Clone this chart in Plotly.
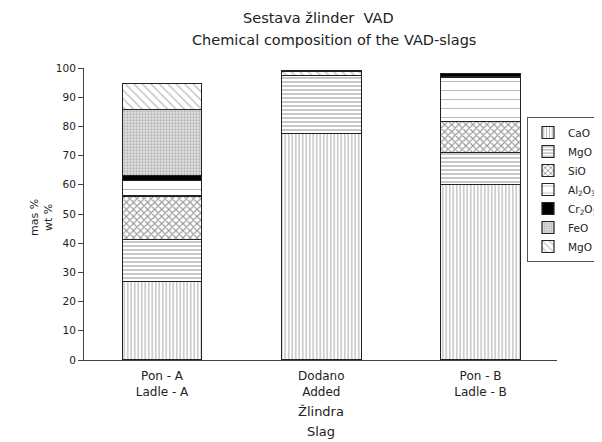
import plotly.graph_objects as go

categories = ["Pon - A<br>Ladle - A", "Dodano<br>Added", "Pon - B<br>Ladle - B"]
cao = [26.8, 77.6, 60.0]
mgo = [14.6, 19.9, 11.0]
sio = [14.8, None, 10.7]
al2o3 = [5.2, None, 15.2]
cr2o3 = [1.7, None, 1.1]
feo = [22.6, None, None]
mgo2 = [9.0, 1.5, None]
y_ticks = [0, 10, 20, 30, 40, 50, 60, 70, 80, 90, 100]

x = [0, 1, 2]
FONT = "DejaVu Sans"
TXT = "#222"

# figure geometry (page has an 8px body margin)
W, H = 594, 434
L, R, T, B = 76, 549, 60, 352


def px(fx):
    return (fx - L) / (R - L)


def py(fy):
    return (B - fy) / (B - T)


series = [
    ("CaO", cao, dict(shape="|", size=3.5, solidity=0.3, fgcolor="#555", bgcolor="white")),
    ("MgO", mgo, dict(shape="-", size=4, solidity=0.3, fgcolor="#444", bgcolor="white")),
    ("SiO", sio, dict(shape="x", size=5, solidity=0.4, fgcolor="#333", bgcolor="white")),
    ("Al<sub>2</sub>O<sub>3</sub>", al2o3, dict(shape="-", size=9, solidity=0.12, fgcolor="#777", bgcolor="white")),
    ("Cr<sub>2</sub>O<sub>3</sub>", cr2o3, None),
    ("FeO", feo, dict(shape=".", size=3, solidity=0.45, fgcolor="#888", bgcolor="#e2e2e2")),
    ("MgO", mgo2, dict(shape="\\", size=6, solidity=0.25, fgcolor="#888", bgcolor="white")),
]

fig = go.Figure()
for name, vals, pat in series:
    marker = dict(line=dict(color="#222", width=1.2))
    if pat is None:
        marker["color"] = "black"
    else:
        marker["color"] = "white"
        marker["pattern"] = pat
    fig.add_trace(go.Bar(x=x, y=vals, name=name, marker=marker, width=0.5))

fig.update_layout(
    width=W, height=H,
    barmode="stack",
    plot_bgcolor="white", paper_bgcolor="white",
    margin=dict(l=L, r=W - R, t=T, b=H - B, autoexpand=False),
    font=dict(family=FONT, size=11, color=TXT),
    legend=dict(
        x=px(519), y=py(109), xanchor="left", yanchor="top",
        xref="paper", yref="paper",
        traceorder="normal",
        bordercolor="#555", borderwidth=1, bgcolor="white",
        font=dict(size=10.5, family=FONT, color=TXT),
        itemwidth=30,
    ),
    xaxis=dict(
        tickmode="array", tickvals=x, ticktext=categories,
        range=[-0.49, 2.48], showline=True, linecolor="#444", linewidth=1,
        ticks="", showgrid=False, zeroline=False,
        tickfont=dict(size=12), ticklabelstandoff=5,
    ),
    yaxis=dict(
        range=[0, 100], tickmode="array", tickvals=y_ticks,
        showline=True, linecolor="#444", linewidth=1,
        ticks="outside", ticklen=5, tickcolor="#444",
        showgrid=False, zeroline=False,
        tickfont=dict(size=10.5),
    ),
    showlegend=True,
)


def note(text, fx, fy, size, angle=0):
    fig.add_annotation(text=text, x=px(fx), y=py(fy), xref="paper", yref="paper",
                       showarrow=False, font=dict(size=size), textangle=angle,
                       xanchor="center", yanchor="middle")


note("Sestava žlinder  VAD", 310, 10, 14.5)
note("Chemical composition of the VAD-slags", 326, 32, 14.5)
note("mas %<br>wt %", 33, 210, 11, -90)
note("Žlindra", 313, 403, 13)
note("Slag", 313, 423, 13)

fig.write_html("out.html")
